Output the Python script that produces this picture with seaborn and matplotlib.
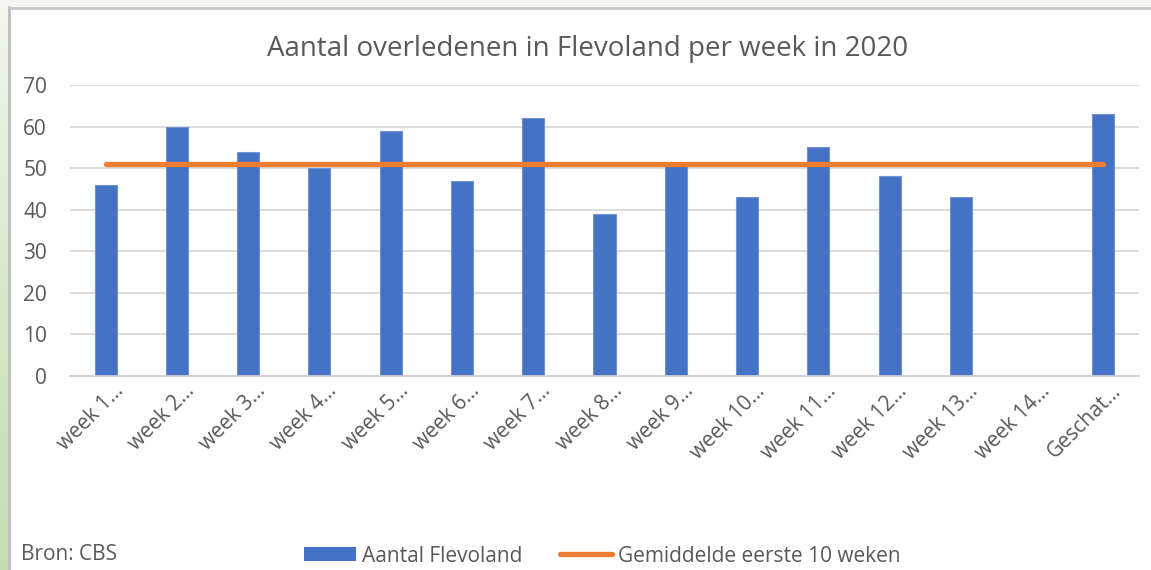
import numpy as np
import pandas as pd
import matplotlib
matplotlib.use("Agg")
import matplotlib.pyplot as plt
import matplotlib.patches as mpatches
import matplotlib.lines as mlines
from matplotlib import transforms
from matplotlib.colors import LinearSegmentedColormap
import seaborn as sns

categories = ["week 1…", "week 2…", "week 3…", "week 4…", "week 5…", "week 6…",
              "week 7…", "week 8…", "week 9…", "week 10…", "week 11…", "week 12…",
              "week 13…", "week 14…", "Geschat…"]
aantal = [46, 60, 54, 50, 59, 47, 62, 39, 51, 43, 55, 48, 43, np.nan, 63]
gemiddelde = [51] * 15
yticks = [0, 10, 20, 30, 40, 50, 60, 70]

title = "Aantal overledenen in Flevoland per week in 2020"
bar_label = "Aantal Flevoland"
line_label = "Gemiddelde eerste 10 weken"
source = "Bron: CBS"

sns.set_theme(style="white")
plt.rcParams['font.family'] = ['Open Sans', 'DejaVu Sans']
TXT = "#595959"
BLUE = "#4472c4"
ORANGE = "#ed7d31"
FS = 15
LW = 3.8

W, H = 1151, 570
fig = plt.figure(figsize=(W / 100, H / 100), dpi=100)
fig.patch.set_facecolor("#f5f7f0")
# green gradient strip on the left edge
bg = fig.add_axes([0, 0, 8 / W, 1])
bg.set_zorder(0)
bg.axis("off")
cmap = LinearSegmentedColormap.from_list("g", ["#c3deae", "#d6e9c8", "#f3f7ef"])
bg.imshow(np.linspace(0, 1, 100)[:, None], aspect="auto", cmap=cmap, origin="lower",
          extent=[0, 1, 0, 1])
# white chart panel with grey frame
fig.patches.append(mpatches.Rectangle((9 / W, 0), 1 - 9 / W, 1 - 8 / H, transform=fig.transFigure,
                                      facecolor="white", edgecolor="none", zorder=0))
fig.add_artist(mlines.Line2D([8.5 / W, 8.5 / W], [0, 1 - 7 / H], transform=fig.transFigure,
                             color="#bdbdbd", lw=2, zorder=0.5))
fig.add_artist(mlines.Line2D([8.5 / W, 1], [1 - 7.5 / H, 1 - 7.5 / H], transform=fig.transFigure,
                             color="#c8c8c8", lw=2, zorder=0.5))

ax = fig.add_axes([70 / W, 1 - 376 / H, (1139 - 70) / W, (376 - 85) / H])
ax.set_zorder(2)
ax.set_facecolor("none")

df = pd.DataFrame({"week": categories, "aantal": aantal, "gem": gemiddelde})
sns.barplot(data=df, x="week", y="aantal", color=BLUE, width=0.31, ax=ax,
            edgecolor="#6f93d4", linewidth=0.8, saturation=1, zorder=2)
sns.lineplot(data=df, x="week", y="gem", color=ORANGE, lw=LW, sort=False, ax=ax,
             solid_capstyle="round", zorder=3)

ax.set_ylim(0, 70)
ax.set_xlim(-0.5, len(categories) - 0.5)
ax.set_yticks(yticks)
ax.yaxis.grid(True, color="#d9d9d9", lw=1.3)
ax.set_axisbelow(True)
for s in ["top", "right", "left"]:
    ax.spines[s].set_visible(False)
ax.spines["bottom"].set_color("#d0d0d0")
ax.spines["bottom"].set_linewidth(1.3)
ax.set_xlabel("")
ax.set_ylabel("")
ax.tick_params(axis="y", length=0, pad=16.5, labelsize=FS, labelcolor=TXT)
ax.tick_params(axis="x", length=0, pad=2, labelsize=FS, labelcolor=TXT)
for lbl in ax.get_xticklabels():
    lbl.set_rotation(45)
    lbl.set_ha("right")
    lbl.set_va("top")
    lbl.set_rotation_mode("anchor")
    lbl.set_transform(lbl.get_transform() + transforms.ScaledTranslation(7 / 100, -2 / 100, fig.dpi_scale_trans))

fig.text(588 / W, 1 - 49 / H, title, ha="center", va="center", fontsize=20, color=TXT)
fig.text(21 / W, 1 - 555 / H, source, ha="left", va="center", fontsize=FS, color=TXT)

handles = [mpatches.Patch(facecolor=BLUE, edgecolor="none", label=bar_label),
           mlines.Line2D([], [], color=ORANGE, lw=LW, solid_capstyle="round", label=line_label)]
leg = fig.legend(handles=handles, loc="center left", bbox_to_anchor=(304 / W, 1 - 556 / H),
                 ncol=2, frameon=False, fontsize=FS, handlelength=2.5, handleheight=0.67,
                 handletextpad=0.29, columnspacing=1.8, borderaxespad=0, borderpad=0)
for t in leg.get_texts():
    t.set_color(TXT)

fig.savefig("out.png", dpi=100, facecolor=fig.get_facecolor())
